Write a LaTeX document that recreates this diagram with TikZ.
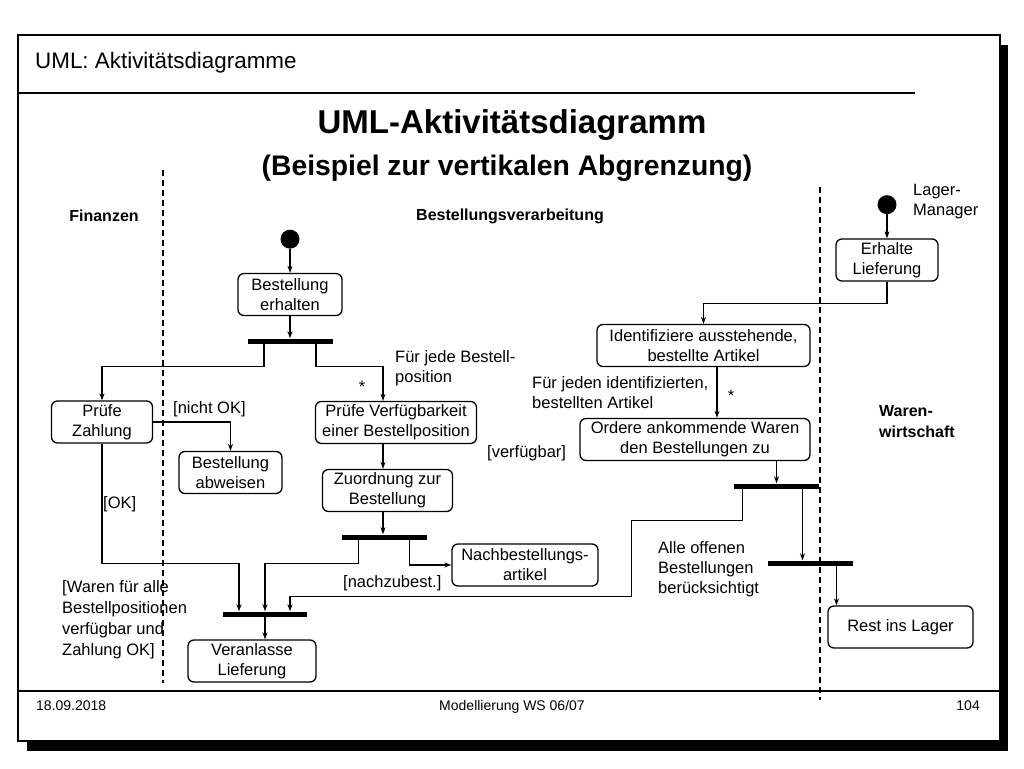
\documentclass[tikz,border=0pt]{standalone}
\usepackage{fontspec}
\setmainfont{Liberation Sans}
\usetikzlibrary{positioning,arrows.meta}
\tikzset{act node/.style={draw,rounded corners=6pt,line width=1.3pt,align=center,inner sep=2pt,
            font=\fontsize{16.5}{20}\selectfont,minimum height=42pt},
         bar node/.style={fill=black,inner sep=0pt,minimum height=5pt,minimum width=85pt},
         start node/.style={circle,fill=black,inner sep=0pt,minimum size=19pt},
         flow/.style={line width=1.3pt,-{Stealth[length=7pt,width=5pt]}},
         note/.style={inner sep=0pt,anchor=west,align=left,font=\fontsize{16.5}{20}\selectfont},
         lane/.style={inner sep=0pt,align=left,font=\bfseries\fontsize{16}{21}\selectfont},
         swim line/.style={line width=1.3pt,dash pattern=on 6pt off 4pt},
            }

\begin{document}
\begin{tikzpicture}[x=1pt,y=-1pt]
    \useasboundingbox (0,0) rectangle (1024,768);

    % slide frame
    \fill (27,45) rectangle (1008,751);
    \filldraw[fill=white,line width=1.5pt] (18,35) rectangle (1000,741);
    \draw[line width=2pt] (18,93) -- (915,93);
    \draw[line width=2pt] (18,691) -- (1000,691);

    \node[anchor=base west,inner sep=0pt,font=\fontsize{22.4}{26}\selectfont] (head) at (35,68) {UML: Aktivitätsdiagramme};
    \node[anchor=base,inner sep=0pt,font=\bfseries\fontsize{33}{40}\selectfont] (title) at (512,133) {UML-Aktivitätsdiagramm};
    \node[anchor=base,inner sep=0pt,font=\bfseries\fontsize{28.3}{34}\selectfont] (subtitle) at (507,175) {(Beispiel zur vertikalen Abgrenzung)};

    \node[anchor=base west,inner sep=0pt,font=\fontsize{14}{17}\selectfont] (date) at (36,710) {18.09.2018};
    \node[anchor=base,inner sep=0pt,font=\fontsize{14}{17}\selectfont] (course) at (512,710) {Modellierung WS 06/07};
    \node[anchor=base east,inner sep=0pt,font=\fontsize{14}{17}\selectfont] (page) at (980,710) {104};

    % swimlanes
    \draw[swim line] (163,170) -- (163,683);
    \draw[swim line] (820,187) -- (820,700);
    \node[lane] (finanzen) at (104,216) {Finanzen};
    \node[lane] (bestellung) at (510,216) {Bestellungsverarbeitung};
    \node[lane,anchor=west] (waren) at (879,422) {Waren-\\wirtschaft};
    \node[note] (lager) at (913,202) {Lager-\\Manager};

    % columns for the arrows
    \coordinate (col2) at (383,0);
    \coordinate (col4) at (717,0);

    % activities
    \node[act node,minimum width=104pt] (be) at (290,294.5) {Bestellung\\erhalten};
    \node[start node] (s1) [above=24pt of be] {};
    \node[bar node] (bar1) at (290,341) {};
    \node[act node,minimum width=101pt] (pz) at (102,422) {Prüfe\\Zahlung};
    \node[act node,minimum width=103pt] (ba) at (230.5,472.5) {Bestellung\\abweisen};
    \node[act node,minimum width=161pt] (pv) at (396,422.5) {Prüfe Verfügbarkeit\\einer Bestellposition};
    \node[act node,minimum width=130pt] (zb) at (387.5,490.5) {Zuordnung zur\\Bestellung};
    \node[bar node] (bar3) at (384.5,537) {};
    \node[act node,minimum width=146pt] (nb) at (525,565) {Nachbestellungs-\\artikel};
    \node[bar node,minimum width=84pt] (bar2) at (265,614) {};
    \node[act node,minimum width=128pt] (vl) at (252,661) {Veranlasse\\Lieferung};

    \node[act node,minimum width=102pt] (el) at (887,260) {Erhalte\\Lieferung};
    \node[start node] (s2) [above=24pt of el] {};
    \node[act node,minimum width=213pt] (ia) at (703.5,345.5) {Identifiziere ausstehende,\\bestellte Artikel};
    \node[act node,minimum width=230pt] (oa) at (695,439.5) {Ordere ankommende Waren\\den Bestellungen zu};
    \node[bar node] (bar4) at (776.5,486) {};
    \node[bar node] (bar5) at (810.5,563) {};
    \node[act node,minimum width=145pt] (rl) at (900.5,627) {Rest ins Lager};

    % guards and notes
    \node[note] (nichtok) at (173,409) {[nicht OK]};
    \node[note] (ok) at (103,504) {[OK]};
    \node[note] (jede) at (395,368) {Für jede Bestell-\\position};
    \node[note,anchor=base] (star1) at (362,392) {*};
    \node[note] (jeden) at (532,392.5) {Für jeden identifizierten,\\bestellten Artikel};
    \node[note,anchor=base] (star2) at (731,401) {*};
    \node[note] (verfuegbar) at (487,453) {[verfügbar]};
    \node[note] (nachzu) at (343,583) {[nachzubest.]};
    \node[note,font=\fontsize{16.5}{21}\selectfont] (alle) at (62,619.5) {[Waren für alle\\Bestellpositionen\\verfügbar und\\Zahlung OK]};
    \node[note] (offen) at (658,569) {Alle offenen\\Bestellungen\\berücksichtigt};

    % flows
    \path[draw,flow]
    (s1) edge (be)
    (be) edge (bar1)
    (s2) edge (el);

    \draw[flow] ([xshift=-26pt]bar1.south) -- ++(0,23) -| (pz.north);
    \draw[flow] ([xshift=26pt]bar1.south) -- ++(0,23) -| (pv.north -| col2);
    \draw[flow] (pz.east) -| (ba.north);
    \draw[flow] (pz.south) -- ++(0,120) -| ([xshift=-26pt]bar2.north);
    \draw[flow] (pv.south -| col2) -- (zb.north -| col2);
    \draw[flow] (zb.south -| col2) -- (bar3.north -| col2);
    \draw[flow] ([xshift=25pt]bar3.south) |- (nb.west);
    \draw[flow] ([xshift=-26pt]bar3.south) -- ++(0,24) -| (bar2.north);
    \draw[flow] (bar2.south) -- ([xshift=13pt]vl.north);

    \draw[flow] (el.south) -- ++(0,22) -| (ia.north);
    \draw[flow] (ia.south -| col4) -- (oa.north -| col4);
    \draw[flow] (oa.south -| bar4) -- (bar4.north);
    \draw[flow] ([xshift=-34pt]bar4.south) -- ++(0,32) -| ++(-111,76) -| ([xshift=25pt]bar2.north);
    \draw[flow] ([xshift=26pt]bar4.south) -- ([xshift=-8pt]bar5.north);
    \draw[flow] ([xshift=26pt]bar5.south) -- ([xshift=-64pt]rl.north);

\end{tikzpicture}
\end{document}
